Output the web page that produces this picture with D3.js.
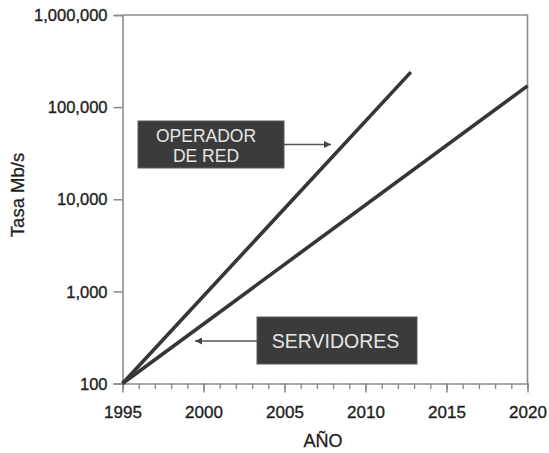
<!DOCTYPE html>
<html>
<head>
<meta charset="utf-8">
<script src="https://cdn.jsdelivr.net/npm/d3@7"></script>
<style>
  html, body { margin: 0; padding: 0; background: #fff; }
  svg { display: block; font-family: "Liberation Sans", Arial, Helvetica, sans-serif; }
</style>
</head>
<body>
<svg id="chart" width="549" height="453"></svg>
<script>
// ---- data ----
const yearsOperador = [1995, 2012.8];
const valuesOperador = [100, 240000];
const yearsServidores = [1995, 2020];
const valuesServidores = [100, 170000];
const yTickValues = [100, 1000, 10000, 100000, 1000000];
const xMajorTicks = [1995, 2000, 2005, 2010, 2015, 2020];
const xMinorTicks = d3.range(1995, 2021);
const seriesLabels = ["OPERADOR DE RED", "SERVIDORES"];
const xTitle = "AÑO";
const yTitle = "Tasa Mb/s";

(function () {
// ---- layout ----
const svg = d3.select("#chart");
const mLeft = 122.5, mRight = 527.5, mTop = 15, mBottom = 383.5;
const x = d3.scaleLinear().domain([1995, 2020]).range([mLeft, mRight]);
const y = d3.scaleLog().domain([100, 1000000]).range([mBottom, mTop]);
const axisColor = "#8c8c8c";
const textColor = "#1e1e1e";

// frame (top and right)
svg.append("path")
  .attr("d", `M${mLeft},${mTop}H${mRight}V${mBottom}`)
  .attr("fill", "none").attr("stroke", axisColor).attr("stroke-width", 1.6);

// y axis
const yAxis = svg.append("g").attr("transform", `translate(${mLeft},0)`)
  .call(d3.axisLeft(y).tickValues(yTickValues).tickSize(9).tickPadding(6)
    .tickFormat(d3.format(",")));
yAxis.select(".domain").attr("stroke", axisColor).attr("stroke-width", 1.6);
yAxis.selectAll(".tick line").attr("stroke", axisColor).attr("stroke-width", 1.6);
yAxis.selectAll(".tick text").attr("fill", textColor).style("font-size", "16.5px")
  .attr("stroke", textColor).attr("stroke-width", 0.35)
  .style("font-family", "'Liberation Sans', Arial, sans-serif").attr("dy", "0.34em");

// x axis minor
const xMinor = svg.append("g").attr("transform", `translate(0,${mBottom})`)
  .call(d3.axisBottom(x).tickValues(xMinorTicks).tickSize(5.5).tickFormat(""));
xMinor.select(".domain").attr("stroke", axisColor).attr("stroke-width", 1.6);
xMinor.selectAll(".tick line").attr("stroke", axisColor).attr("stroke-width", 1.4);

// x axis major
const xMajor = svg.append("g").attr("transform", `translate(0,${mBottom})`)
  .call(d3.axisBottom(x).tickValues(xMajorTicks).tickSize(9).tickPadding(13)
    .tickFormat(d3.format("d")));
xMajor.select(".domain").remove();
xMajor.selectAll(".tick line").attr("stroke", axisColor).attr("stroke-width", 1.6);
xMajor.selectAll(".tick text").attr("fill", textColor).style("font-size", "17px")
  .attr("stroke", textColor).attr("stroke-width", 0.35)
  .style("font-family", "'Liberation Sans', Arial, sans-serif");

// axis titles
svg.append("text").attr("x", 323).attr("y", 447).attr("text-anchor", "middle")
  .attr("fill", textColor).attr("stroke", textColor).attr("stroke-width", 0.3)
  .style("font-size", "18px").text(xTitle);
svg.append("text").attr("transform", "translate(24,195) rotate(-90)")
  .attr("text-anchor", "middle").attr("fill", textColor)
  .attr("stroke", textColor).attr("stroke-width", 0.3)
  .style("font-size", "18.5px").text(yTitle);

// lines
const line = d3.line().x(d => x(d[0])).y(d => y(d[1]));
const series = [
  d3.zip(yearsOperador, valuesOperador),
  d3.zip(yearsServidores, valuesServidores)
];
svg.selectAll("path.series").data(series).enter().append("path")
  .attr("class", "series")
  .attr("d", line).attr("fill", "none").attr("stroke", "#363636")
  .attr("stroke-width", 3.6).attr("stroke-linecap", "butt");

// arrow marker
svg.append("defs").append("marker")
  .attr("id", "arr").attr("viewBox", "0 0 10 10").attr("refX", 10).attr("refY", 5)
  .attr("markerWidth", 9).attr("markerHeight", 7).attr("markerUnits", "userSpaceOnUse")
  .attr("orient", "auto")
  .append("path").attr("d", "M0,0L10,5L0,10Z").attr("fill", "#444");

// label boxes
function labelBox(x0, y0, w, h, lines, fs, cx, baselines, arrow) {
  svg.append("line").attr("x1", arrow[0]).attr("y1", arrow[1])
    .attr("x2", arrow[2]).attr("y2", arrow[3])
    .attr("stroke", "#555").attr("stroke-width", 1.5).attr("marker-end", "url(#arr)");
  svg.append("rect").attr("x", x0).attr("y", y0).attr("width", w).attr("height", h)
    .attr("fill", "#3b3b3b").attr("stroke", "#5a5a5a").attr("stroke-width", 1);
  lines.forEach((t, i) => {
    svg.append("text").attr("x", cx).attr("y", baselines[i]).attr("text-anchor", "middle")
      .attr("fill", "#e6e6e6").style("font-size", fs + "px").text(t);
  });
}
labelBox(138, 121, 146, 47, ["OPERADOR", "DE RED"], 17.5, 206, [141.5, 161.5], [284, 144.5, 331, 144.5]);
labelBox(257, 317, 160, 47, [seriesLabels[1]], 19.5, 335.5, [347.5], [257, 341, 195, 341]);
})();
</script>
</body>
</html>
